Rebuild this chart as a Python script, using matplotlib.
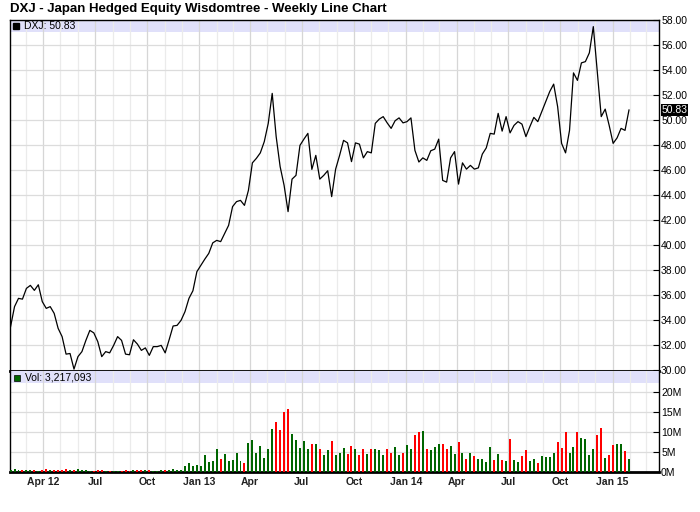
import matplotlib
matplotlib.use("Agg")
import matplotlib.pyplot as plt
import matplotlib.dates as mdates
import matplotlib.transforms as mtransforms
from matplotlib.patches import Rectangle
import numpy as np
import pandas as pd

plt.rcParams['font.family'] = ['Liberation Sans', 'DejaVu Sans']

title = "DXJ - Japan Hedged Equity Wisdomtree - Weekly Line Chart"
first_week = "2012-02-03"

# weekly closes
close = [33.5, 35.1, 35.76, 35.7, 36.56, 36.8, 36.4, 36.85, 35.5, 34.96,
         35.1, 34.56, 33.36, 32.7, 31.3, 31.35, 30.1, 31.1, 31.5, 32.4,
         33.2, 33.0, 32.3, 31.1, 31.5, 31.4, 32.0, 32.7, 32.4, 31.3,
         31.25, 32.45, 32.1, 31.6, 31.8, 31.2, 31.9, 31.9, 32.0, 31.4,
         32.45, 33.55, 33.6, 34.0, 34.7, 35.76,
         36.37, 37.9, 38.4, 38.9, 39.36, 40.2, 40.4, 40.3, 40.96, 41.6,
         43.1, 43.5, 43.6, 43.2, 44.4, 46.6, 46.96, 47.4, 48.3, 49.76,
         52.16, 48.7, 46.3, 44.8, 42.7, 45.3, 45.6, 48.0, 48.5, 48.96,
         46.08, 47.2, 45.3, 45.6, 45.97, 43.9, 46.1, 47.2,
         48.4, 48.2, 46.7, 48.2, 48.1, 47.0, 47.5, 47.4, 49.76, 50.1,
         50.3, 49.8, 49.36, 49.97, 50.2, 49.8, 49.9, 50.2, 47.6, 46.67,
         47.0, 46.8, 47.57, 47.7, 48.5, 45.2, 45.06, 47.0, 47.5, 44.9,
         46.6, 46.1, 46.4, 46.1, 46.2, 47.3, 47.8, 48.96, 48.9, 50.56,
         49.14, 50.3, 49.0, 49.6, 49.9, 49.7, 48.7, 49.5, 50.24, 49.9,
         50.7, 51.5, 52.3, 52.9, 51.1, 48.16, 47.4, 49.2, 53.8, 53.2,
         54.6, 54.7, 55.4, 57.5, 53.9, 50.3, 50.9, 49.6, 48.16, 48.6,
         49.36, 49.2, 50.83]

# weekly volume, millions
volume = [0.5, 0.67, 0.42, 0.33, 0.33, 0.33, 0.33, 0.1, 0.33, 0.67,
          0.33, 0.33, 0.33, 0.33, 0.67, 0.33, 0.33, 0.58, 0.33, 0.33,
          0.1, 0.1, 0.33, 0.33, 0.1, 0.1, 0.1, 0.1, 0.1, 0.33,
          0.1, 0.33, 0.33, 0.33, 0.33, 0.33, 0.1, 0.1, 0.33, 0.33,
          0.33, 0.58, 0.33, 0.33,
          1.4, 2.2, 1.4, 1.67, 1.4, 4.2, 2.4, 2.7, 5.6, 3.2,
          4.4, 2.7, 2.9, 4.7, 2.7, 2.2, 7.2, 7.9, 4.7, 6.4,
          3.4, 5.7, 10.7, 12.4, 10.4, 14.9, 15.8, 9.4, 7.9, 5.9,
          7.7, 5.7, 6.9, 6.9, 5.7, 4.2, 5.4, 7.7, 4.2, 4.7,
          5.9, 4.4, 6.4,
          5.8, 4.2, 5.6, 4.4, 5.6, 5.6, 5.4, 4.2, 5.6, 4.6,
          6.1, 4.2, 4.6, 6.7, 5.8, 9.2, 9.9, 10.2, 5.6, 5.4,
          6.1, 6.9, 6.9, 5.6, 6.4, 4.4, 7.4, 4.8, 3.2, 4.6,
          3.9, 3.3, 3.1, 2.4, 6.1, 2.9, 4.4, 2.9, 2.7, 8.2,
          2.9, 2.4, 3.9, 5.4, 2.7, 3.3, 2.2, 3.9, 3.7, 3.7,
          4.7, 7.4, 5.9, 9.9, 4.7, 6.2, 9.9, 8.4, 8.2, 4.2,
          5.7, 9.2, 10.9, 3.4, 4.2, 6.7, 6.9, 6.9, 5.2, 3.22]

tick_dates = ["2012-04-01", "2012-07-01", "2012-10-01", "2013-01-01",
              "2013-04-01", "2013-07-01", "2013-10-01", "2014-01-01",
              "2014-04-01", "2014-07-01", "2014-10-01", "2015-01-01"]
tick_labels = ["Apr 12", "Jul", "Oct", "Jan 13", "Apr", "Jul", "Oct",
               "Jan 14", "Apr", "Jul", "Oct", "Jan 15"]
price_ticks = np.arange(30, 59, 2)
vol_ticks = [0, 5, 10, 15, 20]
vol_labels = ["0M", "5M", "10M", "15M", "20M"]

dates = pd.date_range(first_week, periods=len(close), freq="7D")
chg = np.diff(np.r_[close[0], close])
colors = np.where(chg >= 0, "#006600", "#ff0000")

W, H = 700, 512
fig = plt.figure(figsize=(W / 100, H / 100), dpi=100)


def box(l, t, r, b):
    return [l / W, 1 - b / H, (r - l) / W, (b - t) / H]


ax = fig.add_axes(box(10, 20, 659, 371))
axv = fig.add_axes(box(10, 371, 659, 471.7), sharex=ax)

band = "#e0e0fa"
grid_c = "#dcdcdc"

# price panel
ax.plot(dates, close, color="black", lw=0.9, zorder=3)
ax.set_ylim(29.95, 58.03)
ax.set_xlim(pd.Timestamp("2012-02-02"), pd.Timestamp("2015-03-24"))
ax.axhspan(57.07, 58.03, color=band, zorder=0.2, lw=0)
ax.set_yticks(price_ticks)
ax.set_yticklabels(["%.2f" % v for v in price_ticks])

# volume panel
axv.bar(dates, volume, width=3.5, color=colors, zorder=3, lw=0)
axv.set_ylim(0, 25.2)
axv.axhspan(22.12, 25.2, color=band, zorder=0.2, lw=0)
axv.set_yticks(vol_ticks)
axv.set_yticklabels(vol_labels)

for a in (ax, axv):
    a.set_axisbelow(True)
    a.yaxis.tick_right()
    a.tick_params(axis="y", direction="in", length=4, width=0.8, pad=1.5,
                  labelsize=7.5, colors="black")
    a.xaxis.set_minor_locator(mdates.MonthLocator())
    a.set_xticks(pd.to_datetime(tick_dates))
    a.tick_params(axis="x", which="both", length=0)
    a.grid(axis="y", color=grid_c, lw=0.9)
    a.grid(axis="x", which="minor", color="#ebebeb", lw=0.9)
    a.grid(axis="x", which="major", color="#d6d6d6", lw=0.9)
    for s in ("left", "right", "top"):
        a.spines[s].set_color("black")
        a.spines[s].set_linewidth(1.0)
    a.spines["bottom"].set_linewidth(2.0)

ax.tick_params(axis="x", labelbottom=False)
axv.spines["top"].set_visible(False)
axv.set_xticklabels(tick_labels, fontweight="bold", fontsize=7.5,
                    color="#222222")
axv.tick_params(axis="x", pad=4)

# last value flag on the right axis
tr = mtransforms.blended_transform_factory(ax.transAxes, ax.transData)
ax.text(1.004, close[-1], "%.2f" % close[-1], transform=tr, ha="left",
        va="center", color="white", fontsize=7.5,
        bbox=dict(facecolor="black", edgecolor="none", pad=0.6))

# title and legends
fig.text(10 / W, 1 - 9 / H, title, fontweight="bold", fontsize=9.5,
         va="center", ha="left")
fig.add_artist(Rectangle((13 / W, 1 - 29 / H), 6 / W, 6 / H,
                         transform=fig.transFigure, color="black"))
fig.text(24 / W, 1 - 26 / H, "DXJ: %.2f" % close[-1], fontsize=7.5,
         va="center", ha="left")
fig.add_artist(Rectangle((14 / W, 1 - 381 / H), 6 / W, 6 / H,
                         transform=fig.transFigure, facecolor="#006600",
                         edgecolor="black", lw=0.5))
fig.text(25 / W, 1 - 378 / H, "Vol: {:,}".format(3217093), fontsize=7.5,
         va="center", ha="left")

fig.savefig("out.png", dpi=100)
